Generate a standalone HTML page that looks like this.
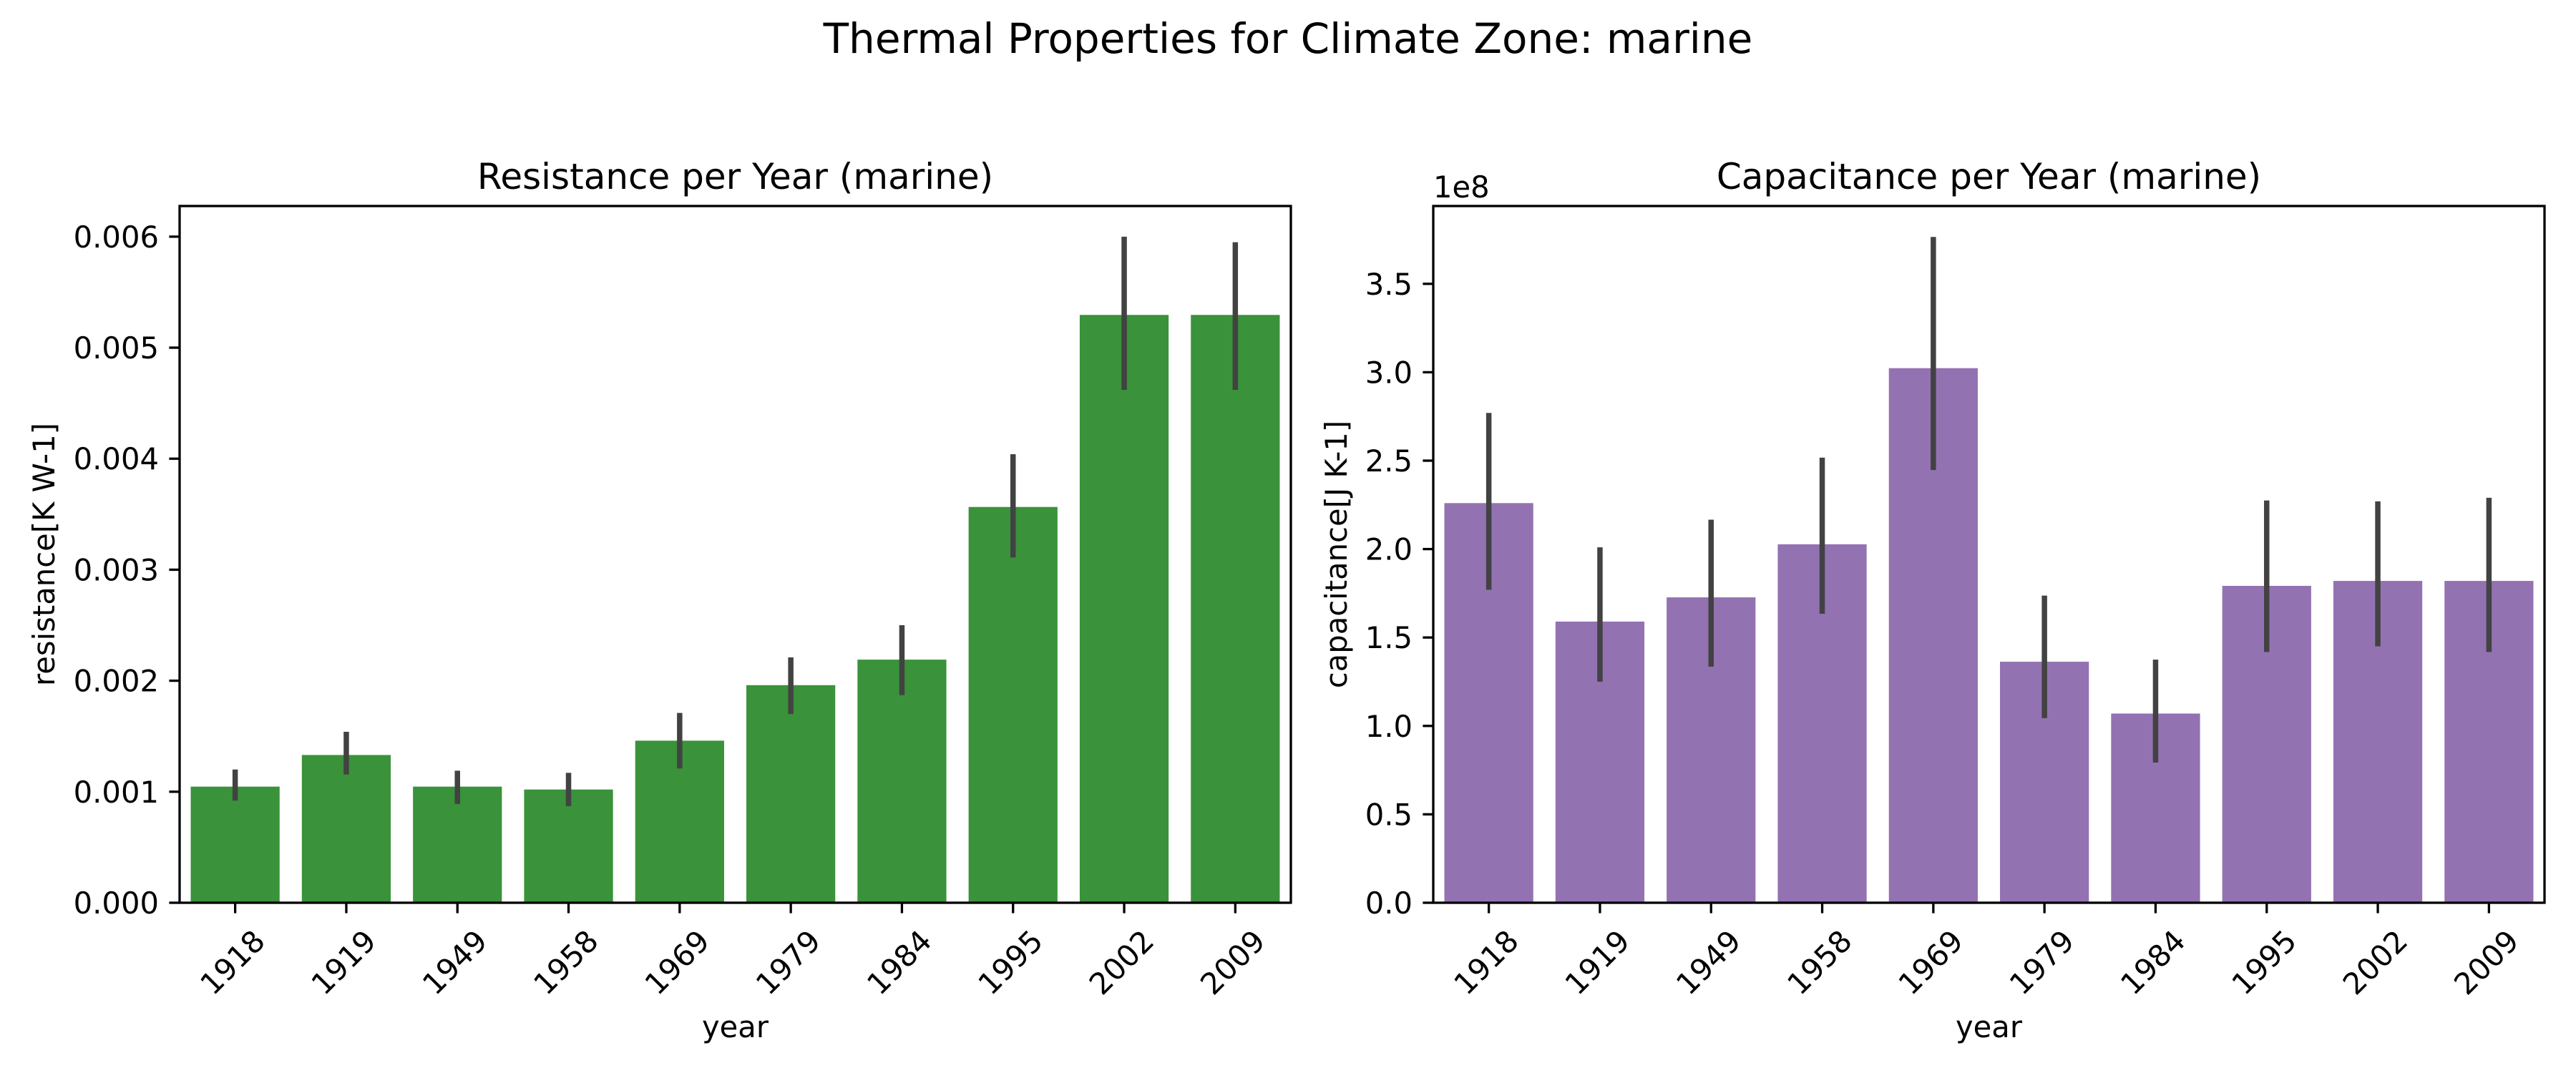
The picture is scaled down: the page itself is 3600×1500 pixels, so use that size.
<!DOCTYPE html>
<html><head><meta charset="utf-8"><style>
html,body{margin:0;padding:0;background:#fff;}
svg{display:block;font-family:"DejaVu Sans","Liberation Sans",sans-serif;}
</style></head><body>
<svg id="fig" width="3600" height="1500" viewBox="0 0 3600 1500" xmlns="http://www.w3.org/2000/svg">
<rect width="3600" height="1500" fill="#fff"/>
<text x="1800" y="74" font-size="58" text-anchor="middle">Thermal Properties for Climate Zone: marine</text>
<g id="left"></g><g id="right"></g>
</svg>
<script>
const years = ["1918","1919","1949","1958","1969","1979","1984","1995","2002","2009"];
const resistance = [0.001046,0.001331,0.001046,0.00102,0.00146,0.00196,0.00219,0.003565,0.005295,0.005295];
const resistanceLow = [0.00092,0.001155,0.00089,0.00087,0.00121,0.00170,0.00187,0.00311,0.00462,0.00462];
const resistanceHigh = [0.00120,0.00154,0.00119,0.00117,0.00171,0.00221,0.00250,0.00404,0.00600,0.00595];
const resTicks = [0,0.001,0.002,0.003,0.004,0.005,0.006];
const resTickLabels = ["0.000","0.001","0.002","0.003","0.004","0.005","0.006"];
const capacitance = [2.26,1.59,1.727,2.027,3.023,1.363,1.07,1.792,1.82,1.82];
const capacitanceLow = [1.77,1.25,1.335,1.634,2.447,1.044,0.793,1.418,1.45,1.418];
const capacitanceHigh = [2.77,2.01,2.166,2.517,3.765,1.737,1.375,2.275,2.27,2.29];
const capTicks = [0,0.5,1,1.5,2,2.5,3,3.5];
const capTickLabels = ["0.0","0.5","1.0","1.5","2.0","2.5","3.0","3.5"];

const NS="http://www.w3.org/2000/svg";
function mk(parent,tag,attrs,text){const e=document.createElementNS(NS,tag);for(const k in attrs)e.setAttribute(k,attrs[k]);if(text!==undefined)e.textContent=text;parent.appendChild(e);return e;}

function drawPanel(g,cfg){
  const L=cfg.left,R=cfg.right,T=288,B=1262;
  const x=i=>L+(R-L)/cfg.cats.length*(i+0.5);
  const bw=(R-L)/cfg.cats.length*0.8;
  const y=v=>B-(v-0)/(cfg.ymax)*(B-T);
  cfg.vals.forEach((v,i)=>{
    const r=mk(g,'rect',{x:x(i)-bw/2,y:y(v),width:bw,height:B-y(v),fill:cfg.color});
    
    
  });
  cfg.vals.forEach((v,i)=>{
    const l=mk(g,'line',{x1:x(i),x2:x(i),y1:y(cfg.lo[i]),y2:y(cfg.hi[i]),stroke:'#424242','stroke-width':7.5});
    
    
  });
  const fr=mk(g,'rect',{x:L,y:T,width:R-L,height:B-T,fill:'none',stroke:'#000','stroke-width':3.3});
  
  
  cfg.ticks.forEach((t,i)=>{
    mk(g,'line',{x1:L-14.6,x2:L,y1:y(t),y2:y(t),stroke:'#000','stroke-width':3.3});
    const tx=mk(g,'text',{x:L-29,y:y(t)+15,'font-size':41.7,'text-anchor':'end'},cfg.tickLabels[i]);
    
    
  });
  cfg.cats.forEach((c,i)=>{
    mk(g,'line',{x1:x(i),x2:x(i),y1:B,y2:B+14.6,stroke:'#000','stroke-width':3.3});
    const cx=x(i)-4,cy=1345;
    const tx=mk(g,'text',{x:cx,y:cy+15,'font-size':41.7,'text-anchor':'middle',transform:`rotate(-45 ${cx} ${cy})`},c);
    
    
  });
  const xl=mk(g,'text',{x:(L+R)/2,y:1450,'font-size':41.7,'text-anchor':'middle'},'year');
  
  
  const yx=cfg.ylabX,yc=(T+B)/2;
  const yl=mk(g,'text',{x:yx,y:yc,'font-size':41.7,'text-anchor':'middle',transform:`rotate(-90 ${yx} ${yc})`},cfg.ylabel);
  
  
  const tt=mk(g,'text',{x:(L+R)/2,y:264,'font-size':50,'text-anchor':'middle'},cfg.title);
  
  
  if(cfg.offset){
    const o=mk(g,'text',{x:L,y:276,'font-size':41.7},cfg.offset);
    
    
  }
}
const gl=document.getElementById('left');


const gr=document.getElementById('right');


drawPanel(gl,{left:251,right:1804,cats:years,vals:resistance,lo:resistanceLow,hi:resistanceHigh,ymax:0.006276,ticks:resTicks,tickLabels:resTickLabels,color:'#3a923a',ylabel:'resistance[K W-1]',ylabX:76,title:'Resistance per Year (marine)'});
drawPanel(gr,{left:2003,right:3556,cats:years,vals:capacitance,lo:capacitanceLow,hi:capacitanceHigh,ymax:3.94,ticks:capTicks,tickLabels:capTickLabels,color:'#9372b2',ylabel:'capacitance[J K-1]',ylabX:1882,title:'Capacitance per Year (marine)',offset:'1e8'});
</script>
</body></html>
